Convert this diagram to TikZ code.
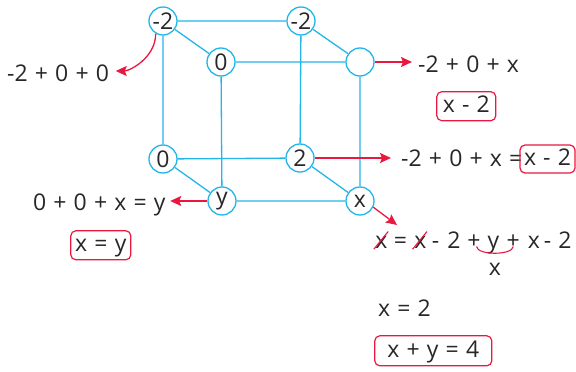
\documentclass[tikz,border=0pt]{standalone}
\usepackage{fontspec}
\setmainfont[WordSpace=1.2]{Open Sans}
\usetikzlibrary{arrows.meta}
\definecolor{cub}{RGB}{35,182,232}
\definecolor{rd}{RGB}{232,24,64}
\definecolor{ink}{RGB}{40,38,40}
\newcommand\fs{\fontsize{23}{26}\selectfont}
\begin{document}
\begin{tikzpicture}[x=1pt,y=-1pt,
  vert/.style={circle,draw=cub,line width=1.3pt,fill=white,minimum size=28pt,inner sep=0pt,font=\fs,text=ink},
  edge/.style={draw=cub,line width=1.3pt},
  arr/.style={draw=rd,line width=1.3pt,-{Stealth[length=11pt,width=10pt,inset=2pt]}},
  txt/.style={inner sep=0pt,font=\fs,text=ink},
  box/.style={draw=rd,line width=1.2pt,rounded corners=5pt,inner sep=0pt,font=\fs,text=ink,text height=15pt,text depth=2pt},
  redline/.style={draw=rd,line width=1.1pt}
]
\useasboundingbox (0,0) rectangle (576,372);
% cube vertices
\node[vert] (bTL) at (163,21) {-2};
\node[vert] (bTR) at (301,21) {-2};
\node[vert] (fTL) at (221,62) {0};
\node[vert] (fTR) at (360,62) {};
\node[vert] (bBL) at (163,159) {0};
\node[vert] (bBR) at (300,158) {2};
\node[vert] (fBL) at (222,201) {y};
\node[vert] (fBR) at (360,201) {x};
% cube edges
\draw[edge] (bTL)--(bTR) (bTL)--(bBL) (bTR)--(bBR) (bBL)--(bBR)
  (fTL)--(fTR) (fTL)--(fBL) (fTR)--(fBR) (fBL)--(fBR)
  (bTL)--(fTL) (bTR)--(fTR) (bBL)--(fBL) (bBR)--(fBR);
% texts
\node[txt,anchor=base west] (t1) at (7,81) {-2 + 0 + 0};
\node[txt,anchor=base west] (t2) at (418,72) {-2 + 0 + x};
\node[box,minimum width=59pt,minimum height=29pt] (k1) at (466.3,106.2) {x - 2};
\node[txt,anchor=base west] (t3) at (401,166.5) {-2 + 0 + x =};
\node[box,minimum width=55pt,minimum height=28pt] (k2) at (547.5,159) {x - 2};
\node[txt,anchor=base east] (t4) at (165.7,210.7) {0 + 0 + x = y};
\node[box,minimum width=60pt,minimum height=29pt] (k3) at (100.8,245.3) {x = y};
% equation
\node[txt,anchor=base] (e1) at (381.5,248) {x};
\node[txt,anchor=base] (e2) at (400.5,248) {=};
\node[txt,anchor=base] (e3) at (420.3,248) {x};
\node[txt,anchor=base] (e4) at (435.5,248) {-};
\node[txt,anchor=base] (e5) at (454,248) {2};
\node[txt,anchor=base] (p1) at (474,248) {+};
\node[txt,anchor=base] (e7) at (493.5,248) {y};
\node[txt,anchor=base] (p2) at (513.3,248) {+};
\node[txt,anchor=base] (e9) at (534,248) {x};
\node[txt,anchor=base] (e10) at (547.5,248) {-};
\node[txt,anchor=base] (e11) at (565,248) {2};
\node[txt,anchor=base] (e12) at (495,275) {x};
\draw[redline] ([xshift=-1.5pt,yshift=-1pt]e1.south west) -- ([xshift=0.5pt,yshift=4pt]e1.north east);
\draw[redline] ([xshift=-1.5pt,yshift=-1pt]e3.south west) -- ([xshift=0.5pt,yshift=4pt]e3.north east);
\draw[redline] ([xshift=2.5pt,yshift=1.5pt]p1.base) .. controls +(1,9) and +(-1,9) .. ([yshift=1.5pt]p2.base);
\node[txt,anchor=base west] (t5) at (378,316.7) {x = 2};
\node[box,minimum width=117pt,minimum height=30pt] (k4) at (433.3,350.8) {x + y = 4};
% arrows
\coordinate (a1) at ([xshift=6.5pt,yshift=10pt]t1.base east);
\draw[arr] (bTL.-120) .. controls +(0,24) and +(14,0) .. (a1);
\coordinate (a2) at ([xshift=-6pt]t2.west);
\draw[arr] (fTR) -- (fTR -| a2);
\coordinate (a3) at ([xshift=-10pt]t3.west);
\draw[arr] (bBR) -- (bBR -| a3);
\coordinate (a4) at ([xshift=4.5pt]t4.east);
\draw[arr] (fBL) -- (fBL -| a4);
\coordinate (a5) at (397,225);
\draw[arr] (fBR.-25) -- (a5);
\end{tikzpicture}
\end{document}
